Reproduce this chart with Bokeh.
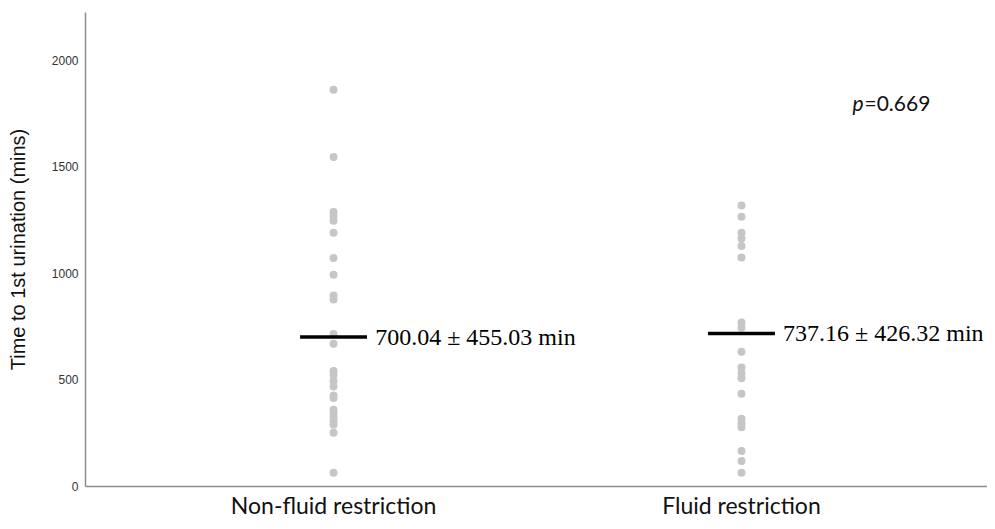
from bokeh.plotting import figure
from bokeh.models import ColumnDataSource, FixedTicker, Range1d, Label
from bokeh.core.properties import value
from bokeh.embed import file_html
from bokeh.resources import INLINE

categories = ["Non-fluid restriction", "Fluid restriction"]
nonfluid_times = [1862, 1546, 1288, 1269, 1247, 1191, 1072, 993, 896, 877, 716, 670,
                  542, 523, 495, 469, 427, 415, 360, 345, 325, 306, 290, 252, 65]
fluid_times = [1319, 1266, 1191, 1164, 1129, 1075, 770, 745, 632, 558, 531, 508,
               435, 318, 298, 278, 166, 120, 65]
mean_lines = [702, 718]
mean_labels = ["700.04 \u00b1 455.03 min", "737.16 \u00b1 426.32 min"]
y_ticks = [0, 500, 1000, 1500, 2000]
p_value_text = "=0.669"

xs = [1] * len(nonfluid_times) + [2] * len(fluid_times)
ys = nonfluid_times + fluid_times
pts = ColumnDataSource(dict(x=xs, y=ys))

cat_x = [1, 2]
half_w = 0.082
lines = ColumnDataSource(dict(x0=[c - half_w for c in cat_x], x1=[c + half_w for c in cat_x],
                              y=mean_lines, tx=[c + 0.102 for c in cat_x], label=mean_labels))

p = figure(width=987, height=521, output_backend="svg", toolbar_location=None,
           x_range=Range1d(0.392, 2.603), y_range=Range1d(0, 2224),
           min_border_left=85, min_border_right=0, min_border_top=12, min_border_bottom=32)
p.outline_line_color = None
p.grid.visible = False
p.background_fill_color = "white"

p.scatter("x", "y", source=pts, size=8, color="#c6c6c6", line_color=None)
p.segment(x0="x0", x1="x1", y0="y", y1="y", source=lines, line_color="black", line_width=3.5)
p.text(x="tx", y="y", text="label", source=lines, text_font=value("Liberation Serif"),
       text_font_size="24px", text_baseline="alphabetic", text_align="left", text_color="black")

p.add_layout(Label(x=2.272, y=1800, text="p", text_font="Lato", text_font_style="italic",
                   text_font_size="21px", text_baseline="middle", text_color="#111"))
p.add_layout(Label(x=2.272, y=1800, x_offset=12, text=p_value_text, text_font="Lato",
                   text_font_size="21px", text_baseline="middle", text_color="#111"))

xa = p.xaxis[0]
xa.ticker = FixedTicker(ticks=cat_x)
xa.major_label_overrides = {c: n for c, n in zip(cat_x, categories)}
xa.major_label_text_font = "Lato"
xa.major_label_text_font_size = "23px"
xa.major_label_text_color = "#111"
xa.major_label_standoff = 4
xa.major_tick_out = 0
xa.major_tick_in = 0
xa.major_tick_line_color = None
xa.minor_tick_line_color = None
xa.axis_line_color = "#8c8c8c"
xa.axis_line_width = 1.5

ya = p.yaxis[0]
ya.ticker = FixedTicker(ticks=y_ticks)
ya.major_label_text_font = "Liberation Sans"
ya.major_label_text_font_size = "12px"
ya.major_label_text_color = "#333333"
ya.major_label_standoff = 7
ya.major_tick_out = 0
ya.major_tick_in = 0
ya.major_tick_line_color = None
ya.minor_tick_line_color = None
ya.axis_line_color = "#8c8c8c"
ya.axis_line_width = 1.5
ya.axis_label = "Time to 1st urination (mins)"
ya.axis_label_text_font = "Liberation Sans"
ya.axis_label_text_font_size = "20px"
ya.axis_label_text_font_style = "normal"
ya.axis_label_text_color = "#111"
ya.axis_label_standoff = 20

open("out.html", "w").write(file_html(p, INLINE))
